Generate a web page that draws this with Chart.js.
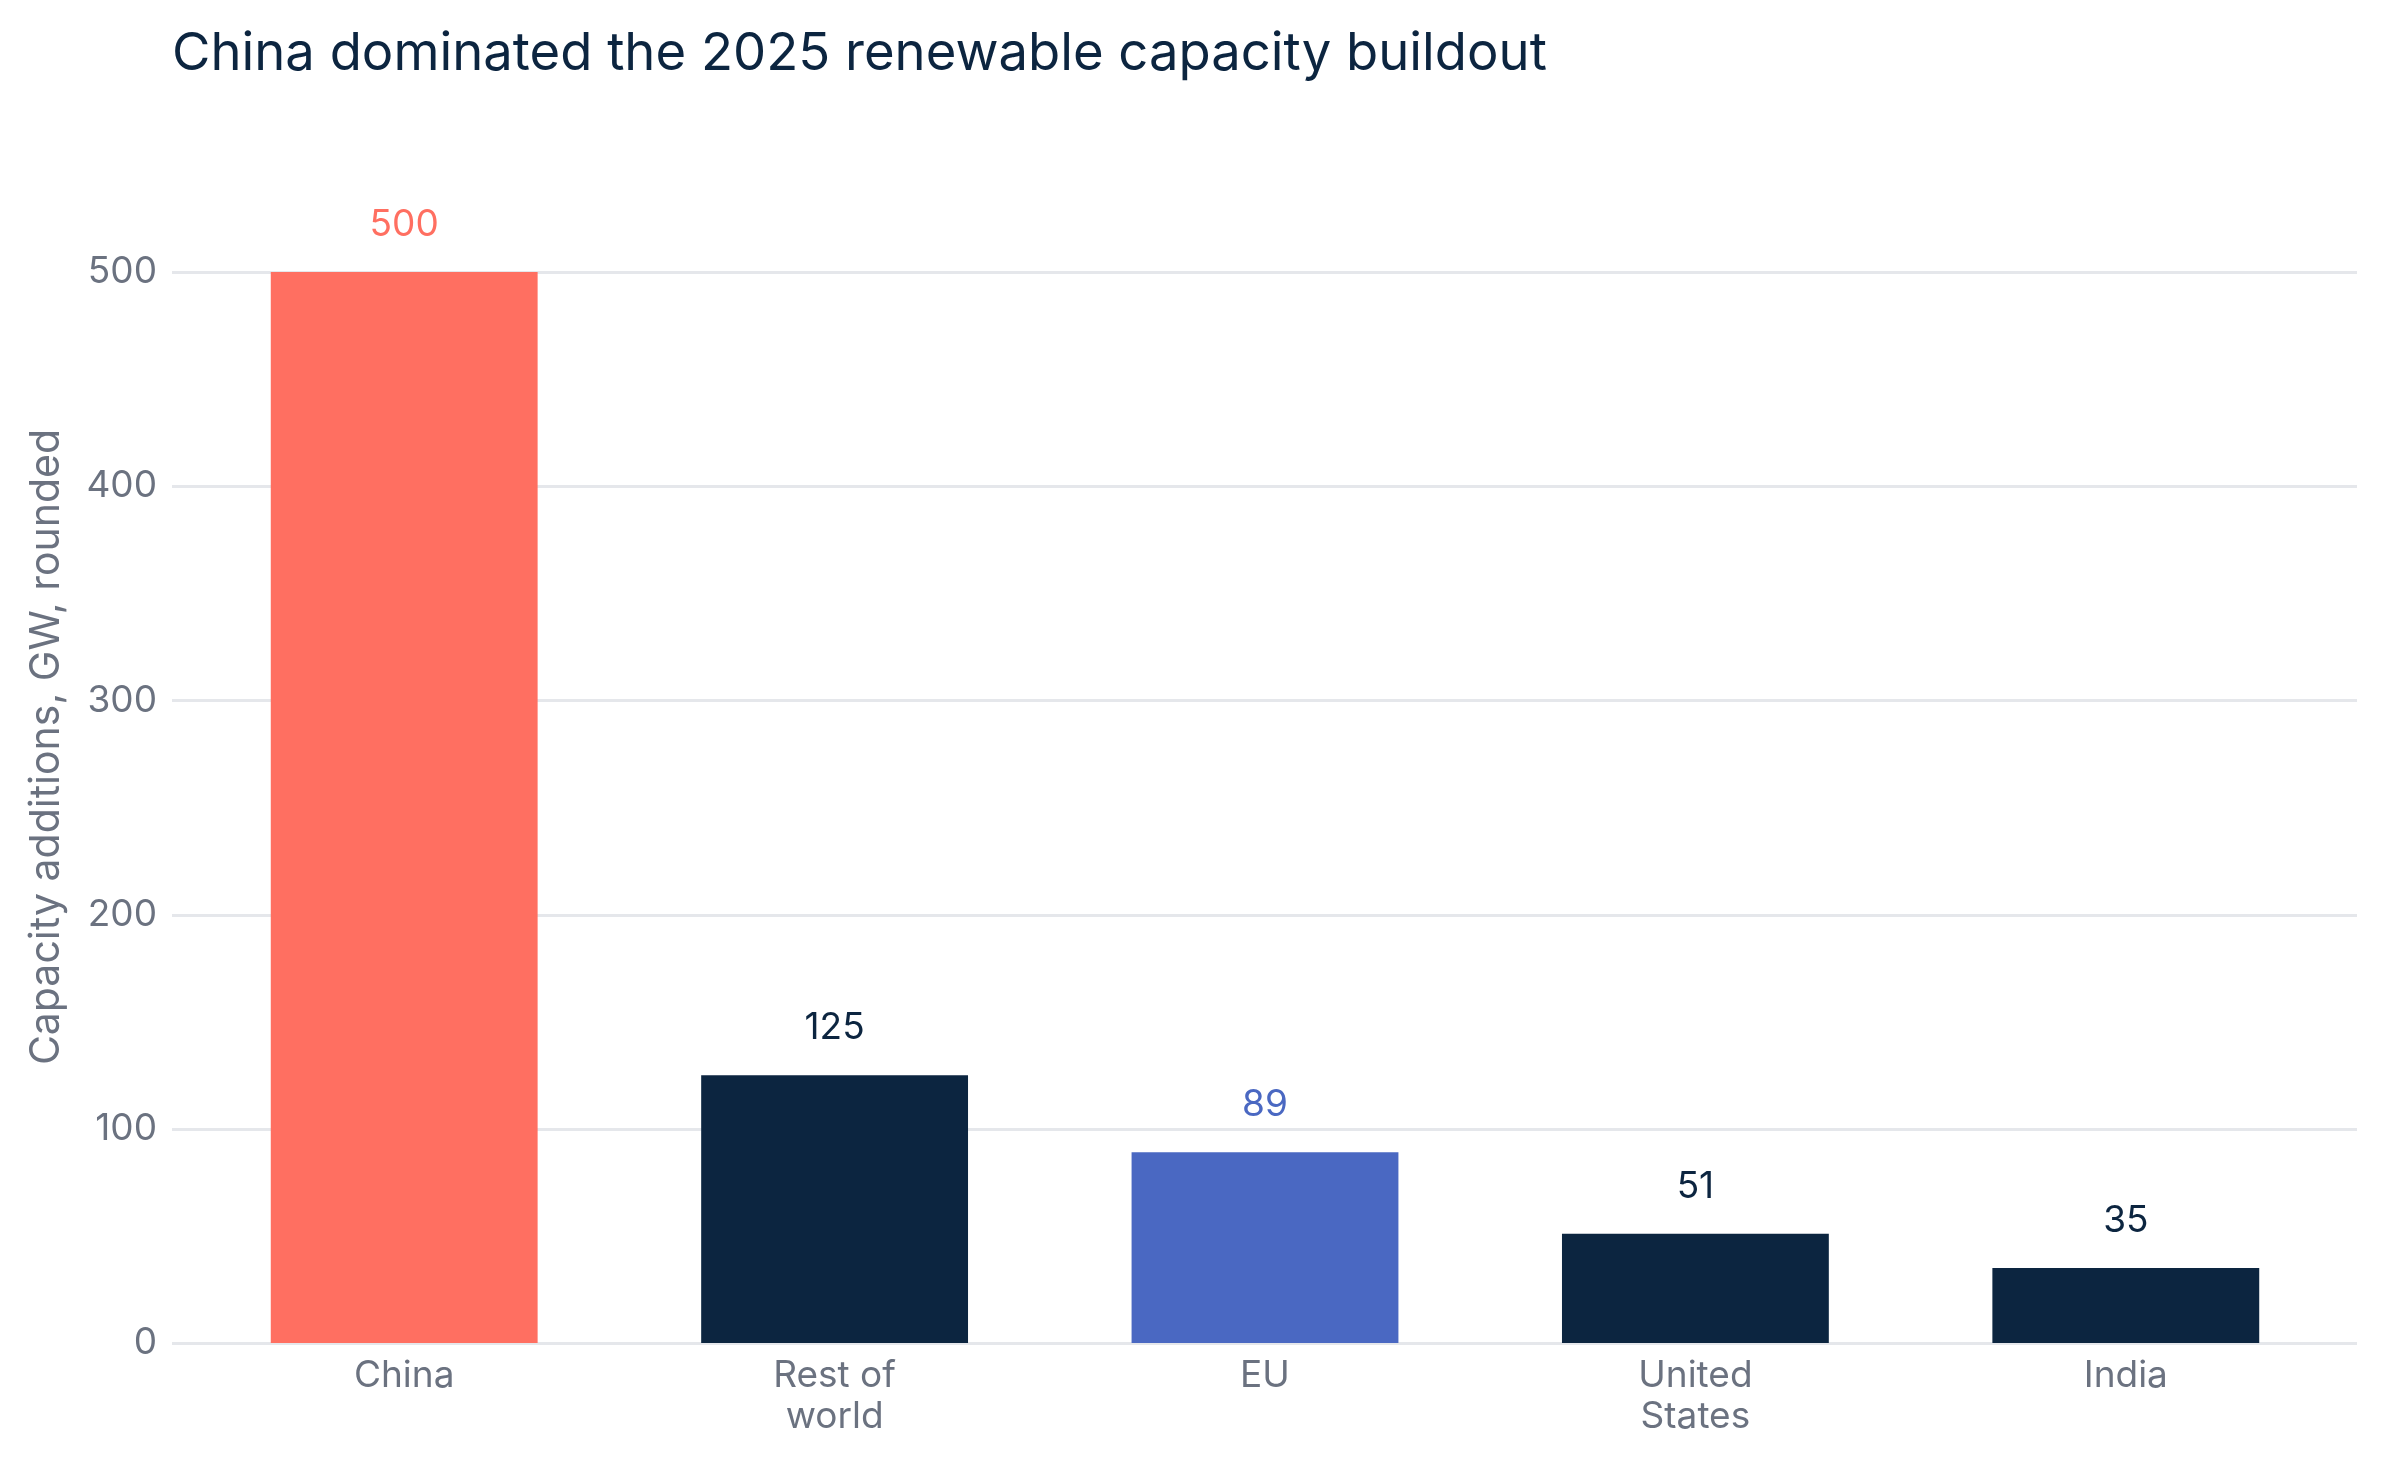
<!DOCTYPE html>
<html>
<head>
<meta charset="utf-8">
<script src="https://cdn.jsdelivr.net/npm/chart.js@4.4.1/dist/chart.umd.min.js"></script>
<style>
  html, body { margin: 0; padding: 0; background: #fff; }
  #wrap { width: 2388px; height: 1467px; position: relative; }
</style>
</head>
<body>
<div id="wrap"><canvas id="chartCapacity"></canvas></div>
<script>
// capacity additions 2025, GW rounded
const regions = [['China'], ['Rest of', 'world'], ['EU'], ['United', 'States'], ['India']];
const capacity = [500, 125, 89, 51, 35];
const barColors = ['#ff6f61', '#0c2540', '#4a68c2', '#0c2540', '#0c2540'];
const labelColors = ['#ff6f61', '#0c2540', '#4a68c2', '#0c2540', '#0c2540'];
const yTicks = [0, 100, 200, 300, 400, 500];

const chartTitle = 'China dominated the 2025 renewable capacity buildout';
const yTitle = 'Capacity additions, GW, rounded';

const FONT = 'Inter, "Noto Sans", sans-serif';
const grey = '#6b7280';

// gridlines run a bit wider than the bars' area
const gridLines = {
  id: 'gridLines',
  beforeDatasetsDraw(chart) {
    const { ctx } = chart;
    const y = chart.scales.y;
    ctx.save();
    ctx.strokeStyle = '#e5e7eb';
    ctx.lineWidth = 3;
    yTicks.forEach(v => {
      const py = Math.round(y.getPixelForValue(v)) + 0.5;
      ctx.beginPath();
      ctx.moveTo(172, py);
      ctx.lineTo(2357, py);
      ctx.stroke();
    });
    ctx.restore();
  }
};

// title, y title and value labels
const extras = {
  id: 'extras',
  afterDatasetsDraw(chart) {
    const { ctx } = chart;
    const meta = chart.getDatasetMeta(0);
    ctx.save();
    ctx.textAlign = 'center';
    ctx.textBaseline = 'middle';
    ctx.font = '37px ' + FONT;
    meta.data.forEach((bar, i) => {
      ctx.fillStyle = labelColors[i];
      ctx.fillText(String(capacity[i]), bar.x, bar.y - 47);
    });

    ctx.fillStyle = '#0c2540';
    ctx.textAlign = 'left';
    ctx.textBaseline = 'alphabetic';
    ctx.font = '52.6px ' + FONT;
    ctx.fillText(chartTitle, 172, 70);

    ctx.translate(47, 747);
    ctx.rotate(-Math.PI / 2);
    ctx.textAlign = 'center';
    ctx.textBaseline = 'middle';
    ctx.font = '41px ' + FONT;
    ctx.fillStyle = grey;
    ctx.fillText(yTitle, 0, 0);
    ctx.restore();
  }
};

const ctx = document.getElementById('chartCapacity');
const chartCapacity = new Chart(ctx, {
  type: 'bar',
  data: {
    labels: regions,
    datasets: [{
      data: capacity,
      backgroundColor: barColors,
      borderWidth: 0,
      categoryPercentage: 1,
      barPercentage: 0.62
    }]
  },
  options: {
    responsive: true,
    maintainAspectRatio: false,
    animation: false,
    layout: { padding: { top: 272, right: 47, left: 0, bottom: 0 } },
    plugins: {
      legend: { display: false },
      tooltip: { enabled: false }
    },
    scales: {
      x: {
        grid: { display: false, drawTicks: false },
        border: { display: false },
        ticks: {
          color: grey,
          font: { family: FONT, size: 37, lineHeight: 1.12 },
          padding: 12,
          maxRotation: 0
        },
        afterFit(scale) { scale.height = 124; }
      },
      y: {
        min: 0,
        max: 500,
        afterBuildTicks(scale) { scale.ticks = yTicks.map(v => ({ value: v })); },
        grid: { display: false, drawTicks: false },
        border: { display: false },
        ticks: {
          color: grey,
          font: { family: FONT, size: 37 },
          padding: 32
        },
        afterFit(scale) { scale.width = 189; }
      }
    }
  },
  plugins: [gridLines, extras]
});
</script>
</body>
</html>
